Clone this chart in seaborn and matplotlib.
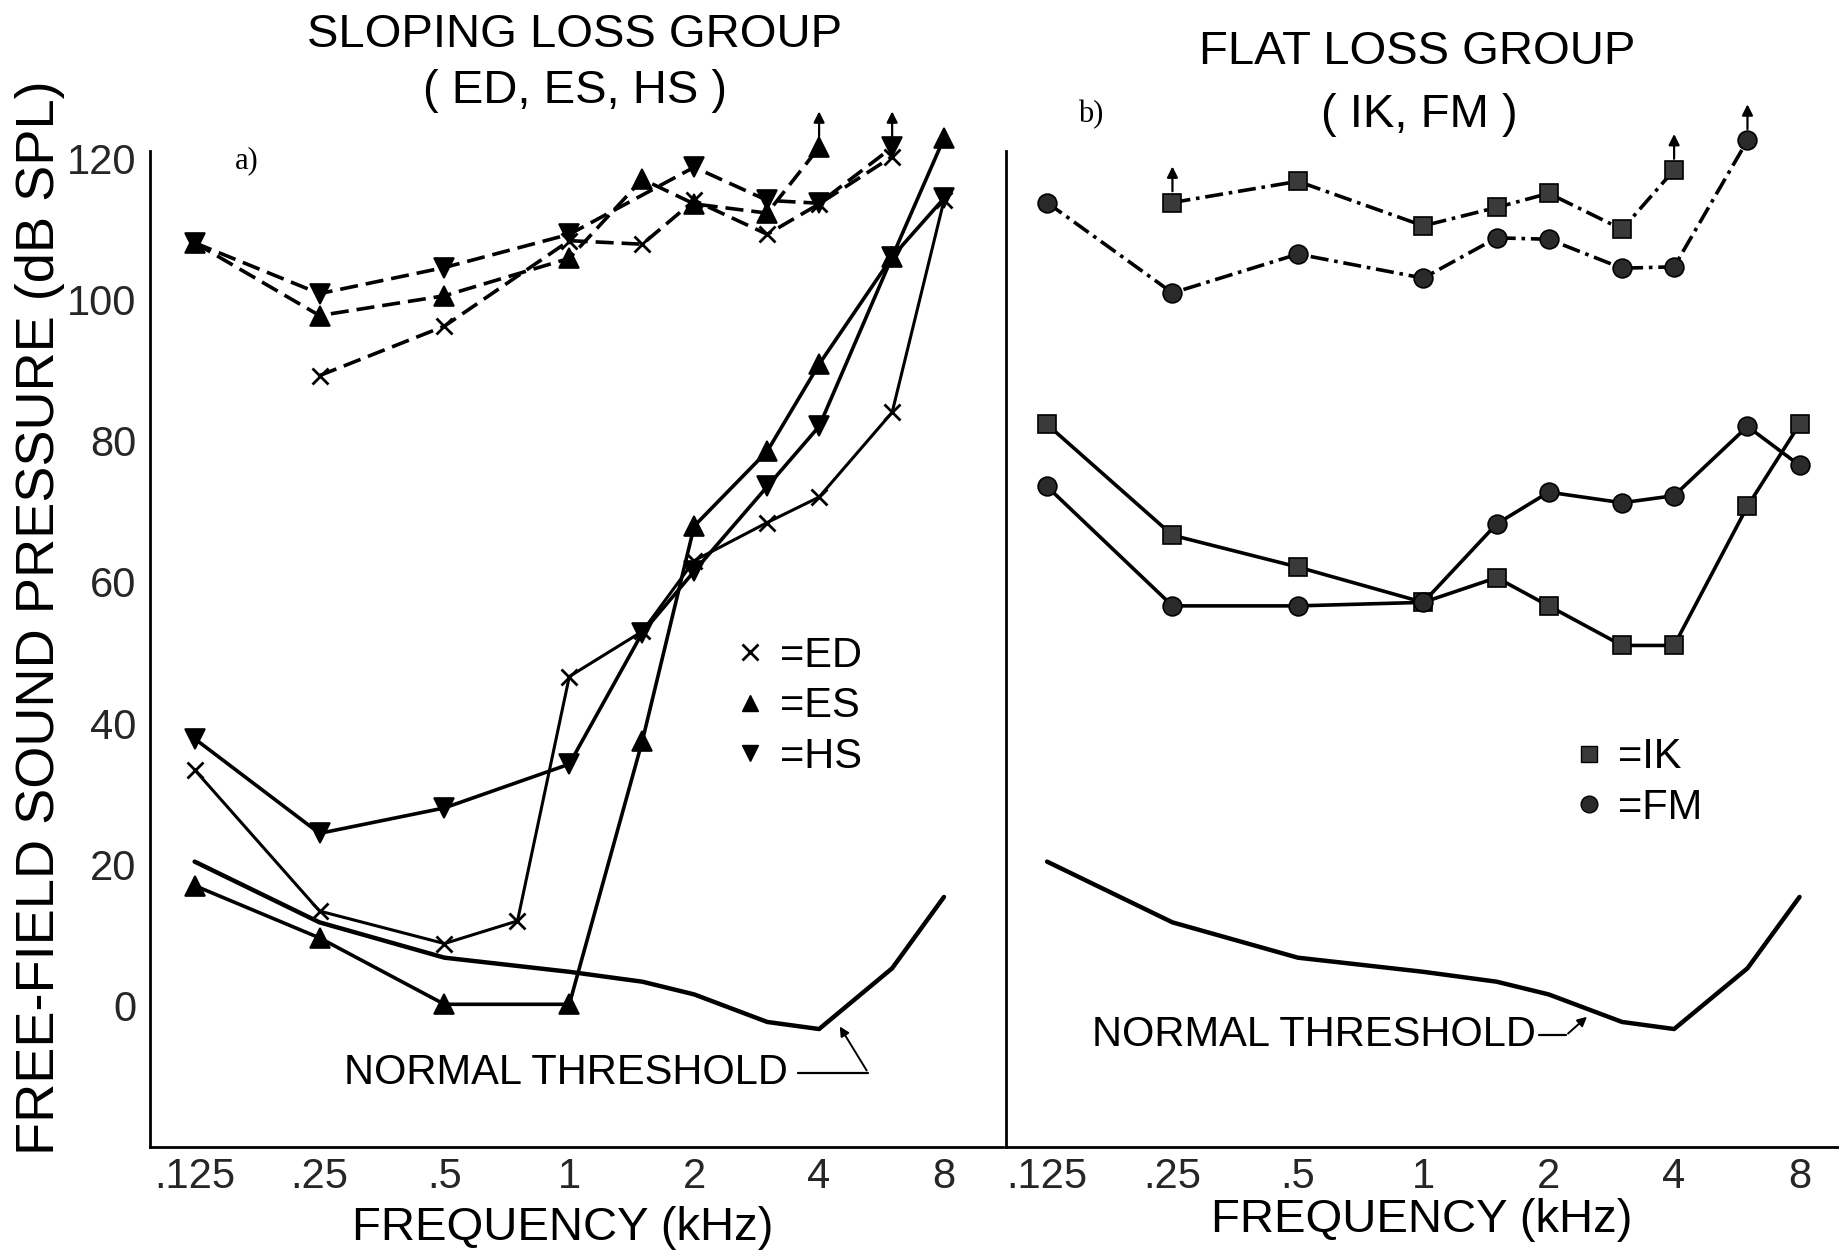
import numpy as np
import pandas as pd
import seaborn as sns
import matplotlib
matplotlib.use("Agg")
import matplotlib.pyplot as plt
from matplotlib.lines import Line2D

# ---------------- data ----------------
freq_ticks = [0.125, 0.25, 0.5, 1, 2, 4, 8]
freq_tick_labels = [".125", ".25", ".5", "1", "2", "4", "8"]
db_ticks = [0, 20, 40, 60, 80, 100, 120]

# Panel a) sloping loss group - lower (solid) curves
ed_low_f = [0.125, 0.25, 0.5, 0.75, 1, 1.5, 2, 3, 4, 6, 8]
ed_low_v = [33.4, 13.4, 8.8, 12.0, 46.6, 53.0, 63.0, 68.4, 72.0, 84.0, 114.0]
es_low_f = [0.125, 0.25, 0.5, 1, 1.5, 2, 3, 4, 6, 8]
es_low_v = [17.0, 9.6, 0.2, 0.2, 37.5, 67.9, 78.5, 90.8, 106.0, 122.8]
hs_low_f = [0.125, 0.25, 0.5, 1, 1.5, 2, 3, 4, 6, 8]
hs_low_v = [37.8, 24.4, 28.0, 34.2, 52.8, 61.5, 73.5, 82.0, 106.0, 114.3]

# Panel a) upper (dashed) curves
ed_up_f = [0.25, 0.5, 1, 1.5, 2, 3, 4, 6]
ed_up_v = [89.2, 96.2, 108.3, 107.8, 114.0, 109.2, 113.5, 120.2]
es_up_f = [0.125, 0.25, 0.5, 1, 1.5, 2, 3, 4]
es_up_v = [108.0, 97.7, 100.5, 105.8, 117.0, 113.5, 112.2, 121.5]
hs_up_f = [0.125, 0.25, 0.5, 1, 2, 3, 4, 6]
hs_up_v = [108.0, 100.8, 104.5, 109.2, 118.7, 114.0, 113.6, 121.5]
a_arrow_f = [4, 6]
a_arrow_v = [121.5, 121.5]

# Panel b) flat loss group
ik_up_f = [0.25, 0.5, 1, 1.5, 2, 3, 4]
ik_up_v = [113.7, 116.7, 110.4, 113.0, 115.0, 109.9, 118.3]
fm_up_f = [0.125, 0.25, 0.5, 1, 1.5, 2, 3, 4, 6]
fm_up_v = [113.7, 100.9, 106.4, 103.0, 108.7, 108.5, 104.4, 104.6, 122.5]
ik_low_f = [0.125, 0.25, 0.5, 1, 1.5, 2, 3, 4, 6, 8]
ik_low_v = [82.3, 66.6, 62.1, 57.1, 60.6, 56.6, 51.0, 51.0, 70.7, 82.3]
fm_low_f = [0.125, 0.25, 0.5, 1, 1.5, 2, 3, 4, 6, 8]
fm_low_v = [73.5, 56.6, 56.6, 57.1, 68.2, 72.7, 71.2, 72.2, 82.0, 76.5]
b_arrow_f = [0.25, 4, 6]
b_arrow_v = [113.7, 118.3, 122.5]

# Normal threshold
norm_f = [0.125, 0.25, 0.5, 1, 1.5, 2, 3, 4, 6, 8]
norm_v = [20.4, 11.8, 6.8, 4.8, 3.4, 1.6, -2.3, -3.3, 5.3, 15.4]

# ---------------- style ----------------
sns.set_theme(style="white")
plt.rcParams["font.family"] = ["Liberation Sans", "DejaVu Sans"]
plt.rcParams["text.color"] = "black"

fig = plt.figure(figsize=(18.39, 12.5), dpi=100)
fig.patch.set_facecolor("white")

ylo, yhi = -20, 128
axA = fig.add_axes([0.0816, 0.0824, 0.4638, 0.8364])
axB = fig.add_axes([0.547, 0.0824, 0.453, 0.8364])

LW = 2.6
MS = 14


def draw(ax, f, v, marker, ls, mfc="black", ms=MS, mew=1.2, lw=LW):
    df = pd.DataFrame({"f": f, "v": v})
    sns.lineplot(data=df, x="f", y="v", ax=ax, color="black", linewidth=lw,
                 linestyle=ls, marker=marker, markersize=ms,
                 markerfacecolor=mfc, markeredgecolor="black",
                 markeredgewidth=mew, estimator=None, sort=False,
                 legend=False)


dash_a = (0, (5, 2.2))
dash_b = (0, (5, 1.6, 1, 1.6))

# Panel a
draw(axA, norm_f, norm_v, None, "-", lw=3.2)
draw(axA, ed_low_f, ed_low_v, "x", "-", ms=12, mew=2.0, lw=2.2)
draw(axA, es_low_f, es_low_v, "^", "-")
draw(axA, hs_low_f, hs_low_v, "v", "-")
draw(axA, ed_up_f, ed_up_v, "x", dash_a, ms=12, mew=2.0)
draw(axA, es_up_f, es_up_v, "^", dash_a)
draw(axA, hs_up_f, hs_up_v, "v", dash_a)
for f, v in zip(a_arrow_f, a_arrow_v):
    axA.annotate("", xy=(f, v + 5.5), xytext=(f, v + 1.2),
                 arrowprops=dict(arrowstyle="-|>", color="black", lw=1.6,
                                 mutation_scale=16), annotation_clip=False)

# Panel b
draw(axB, norm_f, norm_v, None, "-", lw=3.2)
draw(axB, ik_low_f, ik_low_v, "s", "-", mfc="#3a3a3a", ms=12.5)
draw(axB, fm_low_f, fm_low_v, "o", "-", mfc="#2a2a2a", ms=13.5)
draw(axB, ik_up_f, ik_up_v, "s", dash_b, mfc="#3a3a3a", ms=12.5)
draw(axB, fm_up_f, fm_up_v, "o", dash_b, mfc="#2a2a2a", ms=13.5)
for f, v in zip(b_arrow_f, b_arrow_v):
    axB.annotate("", xy=(f, v + 5.5), xytext=(f, v + 1.2),
                 arrowprops=dict(arrowstyle="-|>", color="black", lw=1.6,
                                 mutation_scale=16), annotation_clip=False)

# axes formatting
for ax, xl in ((axA, (0.0976, 11.1)), (axB, (0.0996, 9.95))):
    ax.set_xscale("log", base=2)
    ax.set_xlim(*xl)
    ax.set_ylim(ylo, yhi)
    ax.set_xticks(freq_ticks)
    ax.set_xticks([], minor=True)
    ax.set_yticks(db_ticks)
    ax.set_xlabel("")
    ax.set_ylabel("")
    ax.set_facecolor("white")
    for s in ("top", "right"):
        ax.spines[s].set_visible(False)
    for s in ("left", "bottom"):
        ax.spines[s].set_color("black")
        ax.spines[s].set_linewidth(2.0)
    ax.spines["left"].set_bounds(ylo, 121)
    ax.tick_params(axis="both", direction="in", length=20, width=1.6,
                   color="black", labelsize=30, pad=7)
    ax.tick_params(axis="y", length=22)
    ax.grid(False)

axA.set_xticklabels(freq_tick_labels)
axA.set_yticklabels([str(t) for t in db_ticks])
axA.tick_params(axis="y", pad=10)
axB.set_xticklabels(freq_tick_labels)
axB.set_yticklabels([])

# Normal threshold labels
axA.text(0.98, -9.5, "NORMAL THRESHOLD", fontsize=30, ha="center", va="center")
axA.plot([3.55, 5.25], [-9.5, -9.5], color="black", lw=1.6)
axA.annotate("", xy=(4.45, -2.6), xytext=(5.25, -9.5),
             arrowprops=dict(arrowstyle="-|>", color="black", lw=1.4,
                             mutation_scale=14))
axB.text(0.545, -4.2, "NORMAL THRESHOLD", fontsize=30, ha="center", va="center")
axB.plot([1.9, 2.2], [-4.2, -4.2], color="black", lw=1.6)
axB.annotate("", xy=(2.5, -1.3), xytext=(2.2, -4.2),
             arrowprops=dict(arrowstyle="-|>", color="black", lw=1.4,
                             mutation_scale=14))

# Legends
hA = [Line2D([], [], color="black", marker="x", ls="none", markersize=11, mew=2.0),
      Line2D([], [], color="black", marker="^", ls="none", markersize=12),
      Line2D([], [], color="black", marker="v", ls="none", markersize=12)]
legA = axA.legend(hA, ["=ED", "=ES", "=HS"], loc="upper left",
                  bbox_to_anchor=(0.66, 0.509), frameon=False, fontsize=30,
                  handlelength=0.8, handletextpad=0.3, labelspacing=0.25,
                  borderpad=0)
hB = [Line2D([], [], color="black", marker="s", ls="none", markersize=11,
             markerfacecolor="#3a3a3a"),
      Line2D([], [], color="black", marker="o", ls="none", markersize=12,
             markerfacecolor="#2a2a2a")]
legB = axB.legend(hB, ["=IK", "=FM"], loc="upper left",
                  bbox_to_anchor=(0.655, 0.412), frameon=False, fontsize=30,
                  handlelength=0.8, handletextpad=0.3, labelspacing=0.25,
                  borderpad=0)

# Titles and labels
fig.text(0.3125, 0.972, "SLOPING LOSS GROUP", fontsize=34, ha="center", va="center")
fig.text(0.3125, 0.927, "( ED, ES, HS )", fontsize=34, ha="center", va="center")
fig.text(0.7704, 0.958, "FLAT LOSS GROUP", fontsize=34, ha="center", va="center")
fig.text(0.7716, 0.908, "( IK, FM )", fontsize=34, ha="center", va="center")
fig.text(0.134, 0.8714, "a)", fontsize=22, ha="center", va="center",
         family=["Liberation Serif", "DejaVu Serif"])
fig.text(0.593, 0.908, "b)", fontsize=22, ha="center", va="center",
         family=["Liberation Serif", "DejaVu Serif"])
fig.text(0.306, 0.0176, "FREQUENCY (kHz)", fontsize=34, ha="center", va="center")
fig.text(0.773, 0.024, "FREQUENCY (kHz)", fontsize=34, ha="center", va="center")
fig.text(0.022, 0.5056, "FREE-FIELD SOUND PRESSURE (dB SPL)", fontsize=39,
         ha="center", va="center", rotation=90)

fig.savefig("out.png", dpi=100, facecolor="white")
